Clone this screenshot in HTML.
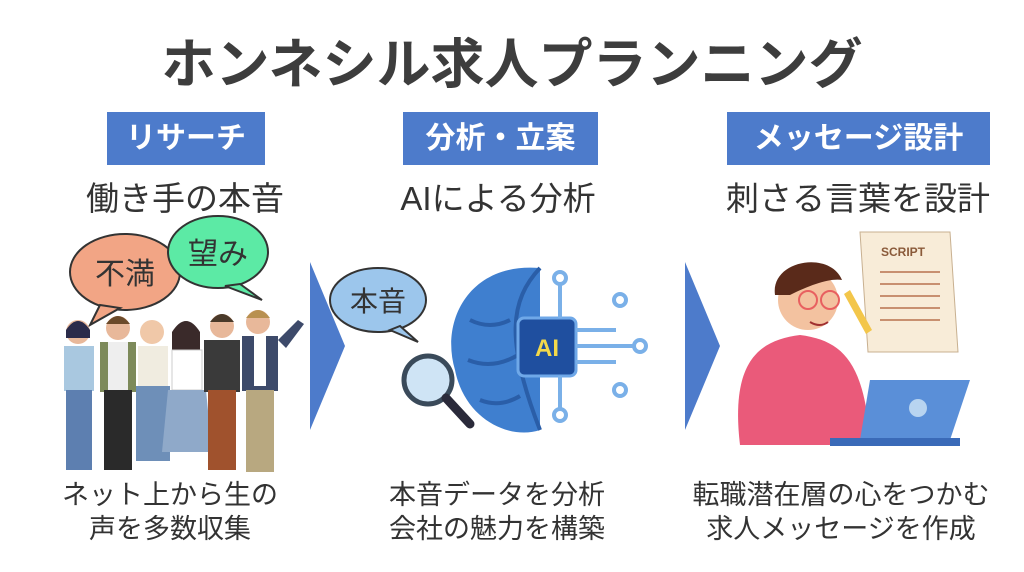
<!DOCTYPE html>
<html><head><meta charset="utf-8"><style>
body{margin:0;width:1024px;height:572px;background:#fff;position:relative;overflow:hidden;font-family:"Liberation Sans","Noto Sans CJK JP",sans-serif;color:#333}
.t{position:absolute;left:0;width:1024px;top:20px;text-align:center;font-size:54px;font-weight:bold;color:#3d3d3d;letter-spacing:0px}
.lb{position:absolute;background:#4d7bcb;color:#fff;font-weight:bold;font-size:30px;text-align:center;line-height:53px;height:53px;top:112px}
.s{position:absolute;top:172px;font-size:33px;text-align:center;color:#333}
.b{position:absolute;top:478px;font-size:27px;line-height:34px;text-align:center;color:#333}
svg{position:absolute;left:0;top:0}
</style></head><body>
<div class="t">ホンネシル求人プランニング</div>
<div class="lb" style="left:107px;width:158px">リサーチ</div>
<div class="lb" style="left:403px;width:195px">分析・立案</div>
<div class="lb" style="left:727px;width:263px">メッセージ設計</div>
<div class="s" style="left:35px;width:300px">働き手の本音</div>
<div class="s" style="left:348px;width:300px">AIによる分析</div>
<div class="s" style="left:698px;width:320px">刺さる言葉を設計</div>
<div class="b" style="left:20px;width:300px">ネット上から生の<br>声を多数収集</div>
<div class="b" style="left:347px;width:300px">本音データを分析<br>会社の魅力を構築</div>
<div class="b" style="left:666px;width:350px">転職潜在層の心をつかむ<br>求人メッセージを作成</div>
<svg width="1024" height="572">
<polygon points="310,262 345,346 310,430" fill="#4d7bcb"/>
<polygon points="685,262 720,346 685,430" fill="#4d7bcb"/>
<ellipse cx="125" cy="272" rx="55" ry="38" fill="#f2a585" stroke="#333" stroke-width="2"/>
<polygon points="100,305 90,325 120,308" fill="#f2a585" stroke="#333" stroke-width="2"/>
<text x="125" y="284" font-size="30" text-anchor="middle" fill="#333">不満</text>
<ellipse cx="218" cy="252" rx="50" ry="36" fill="#5ceaa5" stroke="#333" stroke-width="2"/>
<polygon points="240,284 262,300 225,286" fill="#5ceaa5" stroke="#333" stroke-width="2"/>
<text x="218" y="264" font-size="30" text-anchor="middle" fill="#333">望み</text>
<g>
<circle cx="78" cy="332" r="12" fill="#e8b89a"/><path d="M66 330 q12 -18 24 0 v8 h-24z" fill="#2b2b4a"/>
<rect x="64" y="346" width="30" height="45" fill="#a9c8e0"/><rect x="66" y="390" width="26" height="80" fill="#5d7fb0"/>
<circle cx="118" cy="328" r="12" fill="#e8b89a"/><path d="M106 324 q12 -16 24 0z" fill="#6b4a2a"/>
<rect x="100" y="342" width="36" height="50" fill="#7d8a5a"/><rect x="108" y="342" width="20" height="48" fill="#eee"/>
<rect x="104" y="390" width="28" height="80" fill="#2a2a2a"/>
<circle cx="152" cy="332" r="12" fill="#f0c8a8"/><rect x="138" y="346" width="30" height="40" fill="#f0ece0"/>
<rect x="136" y="386" width="34" height="75" fill="#6e8fb8"/>
<circle cx="186" cy="334" r="12" fill="#e8b89a"/><path d="M172 332 q14 -22 28 0 v20 h-28z" fill="#3a2a2a"/>
<rect x="172" y="350" width="30" height="40" fill="#fff" stroke="#ccc"/><path d="M168 390 h38 l6 62 h-50z" fill="#8fa9c9"/>
<circle cx="222" cy="326" r="12" fill="#e8b89a"/><path d="M210 322 q12 -16 24 0z" fill="#4a3a2a"/>
<rect x="204" y="340" width="36" height="52" fill="#3a3a3a"/><rect x="208" y="390" width="28" height="80" fill="#a0522d"/>
<circle cx="258" cy="322" r="12" fill="#e8b89a"/><path d="M246 318 q12 -16 24 0z" fill="#b89050"/>
<rect x="242" y="336" width="36" height="55" fill="#3d4a6a"/><rect x="254" y="336" width="12" height="50" fill="#fff"/>
<rect x="246" y="390" width="28" height="82" fill="#b8a880"/>
<path d="M278 340 l20 -20 l6 4 l-18 24z" fill="#3d4a6a"/>
</g>
<ellipse cx="378" cy="300" rx="48" ry="32" fill="#9cc6ec" stroke="#333" stroke-width="2"/>
<polygon points="400,326 418,342 390,330" fill="#9cc6ec" stroke="#333" stroke-width="2"/>
<text x="378" y="311" font-size="28" text-anchor="middle" fill="#333">本音</text>
<path d="M540 268 C470 262 440 320 455 370 C465 420 510 440 540 430 Z" fill="#3f7fcf"/>
<path d="M540 268 C510 300 505 340 540 430" fill="none" stroke="#2a5ea8" stroke-width="4"/>
<path d="M470 320 q20 10 40 0 M468 360 q25 10 50 -5 M480 400 q20 8 40 -4" stroke="#2a5ea8" stroke-width="4" fill="none"/>
<rect x="518" y="318" width="58" height="58" rx="6" fill="#1f4f9f" stroke="#6fa8e8" stroke-width="3"/>
<text x="547" y="356" font-size="24" font-weight="bold" text-anchor="middle" fill="#f3d94a">AI</text>
<g stroke="#7ab0e8" stroke-width="4" fill="#fff">
<path d="M576 330 h40 M576 346 h60 M576 362 h40 M560 318 v-35 M560 376 v35" fill="none"/>
<circle cx="620" cy="300" r="6"/><circle cx="640" cy="346" r="6"/><circle cx="620" cy="390" r="6"/><circle cx="560" cy="278" r="6"/><circle cx="560" cy="415" r="6"/>
</g>
<circle cx="428" cy="380" r="24" fill="#cfe4f5" stroke="#3a4a5a" stroke-width="5"/>
<line x1="446" y1="398" x2="470" y2="424" stroke="#2a2a3a" stroke-width="9" stroke-linecap="round"/>
<path d="M860 232 h90 l8 120 h-90z" fill="#f8ecd8" stroke="#c8b090"/>
<text x="903" y="256" font-size="12" font-weight="bold" text-anchor="middle" fill="#8a5a3a">SCRIPT</text>
<g stroke="#c89070" stroke-width="2"><line x1="880" y1="272" x2="940" y2="272"/><line x1="880" y1="284" x2="940" y2="284"/><line x1="880" y1="296" x2="940" y2="296"/><line x1="880" y1="308" x2="940" y2="308"/><line x1="880" y1="320" x2="940" y2="320"/></g>
<path d="M850 290 l22 40 l-6 4 l-22 -40z" fill="#f3c64a"/>
<path d="M740 445 C730 360 760 340 800 335 C840 340 860 360 868 420 L868 445Z" fill="#ea5a7a"/>
<circle cx="808" cy="300" r="30" fill="#f3c2a0"/>
<path d="M775 295 C770 260 830 250 842 280 C830 278 810 285 790 295Z" fill="#5a2a1a"/>
<circle cx="808" cy="300" r="9" fill="none" stroke="#e86060" stroke-width="2"/><circle cx="830" cy="300" r="9" fill="none" stroke="#e86060" stroke-width="2"/>
<path d="M810 322 q10 6 18 0" stroke="#a03030" stroke-width="2" fill="none"/>
<path d="M870 380 h100 l-20 60 h-90z" fill="#5a8fd8"/>
<rect x="830" y="438" width="130" height="8" fill="#3a6ab8"/>
<circle cx="918" cy="408" r="9" fill="#b8d4f0"/>
</svg>
</body></html>
